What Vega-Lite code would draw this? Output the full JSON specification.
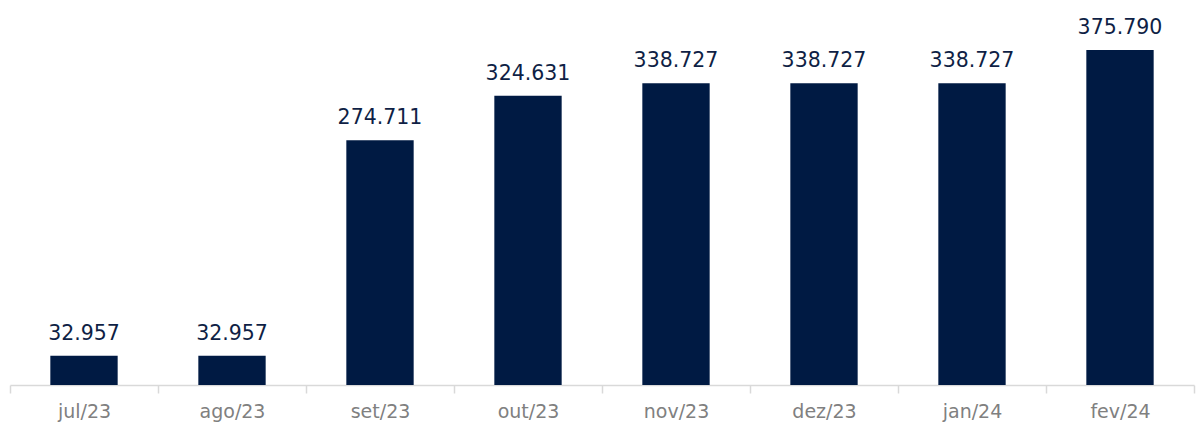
{
  "$schema": "https://vega.github.io/schema/vega-lite/v6.json",
  "autosize": {"type": "none"},
  "padding": {"left": 10, "top": 0, "right": 8, "bottom": 41},
  "width": 1184,
  "height": 385,
  "background": "white",
  "data": {"values": [
    {"mes": "jul/23", "valor": 32957, "rotulo": "32.957"},
    {"mes": "ago/23", "valor": 32957, "rotulo": "32.957"},
    {"mes": "set/23", "valor": 274711, "rotulo": "274.711"},
    {"mes": "out/23", "valor": 324631, "rotulo": "324.631"},
    {"mes": "nov/23", "valor": 338727, "rotulo": "338.727"},
    {"mes": "dez/23", "valor": 338727, "rotulo": "338.727"},
    {"mes": "jan/24", "valor": 338727, "rotulo": "338.727"},
    {"mes": "fev/24", "valor": 375790, "rotulo": "375.790"}
  ]},
  "encoding": {
    "x": {"field": "mes", "type": "nominal", "sort": null,
      "scale": {"paddingInner": 0, "paddingOuter": 0},
      "axis": {"title": null, "labelAngle": 0, "labelFont": "DejaVu Sans", "labelFontSize": 19, "labelColor": "#808080",
        "domainColor": "#d9d9d9", "domainWidth": 1.5, "tickColor": "#d9d9d9", "tickWidth": 1.5, "tickSize": 8, "tickBand": "extent",
        "labelPadding": 9, "grid": false}},
    "y": {"field": "valor", "type": "quantitative", "scale": {"domain": [0, 432000]}, "axis": null}
  },
  "layer": [
    {"mark": {"type": "bar", "color": "#001A43", "width": {"band": 0.455}}},
    {"mark": {"type": "text", "font": "DejaVu Sans", "fontSize": 20.5, "color": "#0f1f45", "baseline": "alphabetic", "dy": -16},
     "encoding": {"text": {"field": "rotulo"}}}
  ],
  "config": {"view": {"stroke": null}}
}
